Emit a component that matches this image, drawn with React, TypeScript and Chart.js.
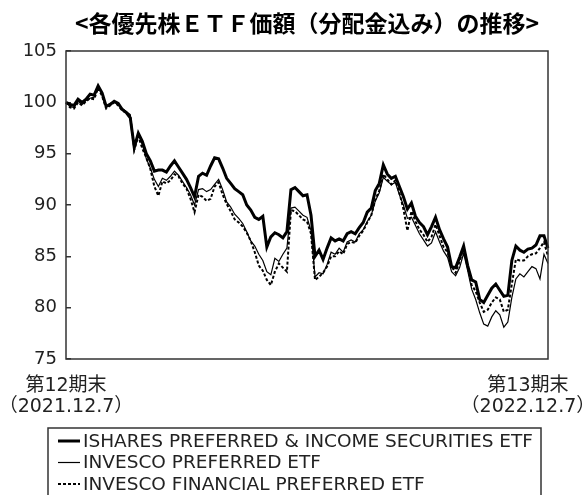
import React, { useEffect, useRef } from 'react';
import { Chart, registerables } from 'chart.js';

Chart.register(...registerables);

const titleText = '<各優先株ＥＴＦ価額（分配金込み）の推移>';
const seriesNames = [
  'ISHARES PREFERRED & INCOME SECURITIES ETF',
  'INVESCO PREFERRED ETF',
  'INVESCO FINANCIAL PREFERRED ETF',
];
const xTickLabels = [
  ['第12期末', '（2021.12.7）'],
  ['第13期末', '（2022.12.7）'],
];
const yMin = 75;
const yMax = 105;
const yStep = 5;

const ishares = [
  100.0, 99.8, 99.7, 100.3, 100.0, 100.3, 100.8, 100.7, 101.6, 100.9,
  99.6, 99.8, 100.1, 99.9, 99.3, 99.0, 98.5, 95.6, 97.0, 96.2,
  95.0, 94.3, 93.3, 93.4, 93.4, 93.2, 93.8, 94.3, 93.7, 93.1,
  92.5, 91.7, 90.8, 92.8, 93.1, 92.9, 93.8, 94.6, 94.5, 93.6,
  92.6, 92.1, 91.6, 91.3, 91.0, 90.0, 89.5, 88.8, 88.6, 88.9,
  85.9, 86.9, 87.3, 87.1, 86.8, 87.4, 91.5, 91.7, 91.3, 90.9,
  91.0, 89.0, 85.0, 85.6, 84.7, 85.8, 86.8, 86.5, 86.7, 86.5,
  87.2, 87.4, 87.2, 87.8, 88.3, 89.3, 89.7, 91.4, 92.1, 93.9,
  93.0, 92.6, 92.8, 91.8, 90.8, 89.6, 90.2, 88.9, 88.3, 87.9,
  87.1, 87.9, 88.8, 87.6, 86.7, 85.9, 84.0, 83.9, 84.9, 86.0,
  84.1, 82.7, 82.5, 80.8, 80.5, 81.2, 81.9, 82.3, 81.7, 81.1,
  81.2, 84.6, 86.0, 85.6, 85.4, 85.7, 85.8, 86.1, 87.0, 87.0,
  85.8,
];

const invescoPreferred = [
  100.0, 99.6, 99.5, 100.1, 99.8, 100.2, 100.4, 100.5, 101.5, 100.8,
  99.5, 99.9, 100.0, 99.8, 99.4, 99.1, 98.8, 95.7, 96.9, 95.9,
  94.5, 93.6, 92.5, 91.8, 92.6, 92.4, 92.8, 93.3, 92.9, 92.3,
  91.7, 91.0, 90.0, 91.5, 91.6, 91.3, 91.5, 92.0, 92.5, 91.5,
  90.3, 89.8, 89.1, 88.7, 88.2, 87.4, 86.5, 86.0, 85.2, 84.6,
  83.5, 83.2, 84.8, 84.5, 85.2, 85.8, 89.7, 89.8, 89.4, 89.0,
  88.8, 87.5, 83.0, 83.4, 83.3, 84.2, 85.4, 85.2, 85.8, 85.4,
  86.4, 86.6, 86.4, 87.2, 87.6, 88.4, 89.0, 90.4, 91.2, 92.7,
  92.3, 92.0, 92.2, 91.0, 90.0, 88.7, 88.8, 88.0, 87.2, 86.6,
  86.0, 86.3, 87.4, 86.4, 85.5, 84.9, 83.5, 83.1, 83.9, 85.3,
  83.6, 81.8, 80.8, 79.5, 78.4, 78.2, 79.1, 79.7, 79.3, 78.1,
  78.6, 81.0, 82.8, 83.3, 83.0, 83.5, 84.0, 83.8, 82.8, 85.2,
  84.3,
];

const invescoFinancial = [
  100.0, 99.5, 99.4, 100.0, 99.7, 100.1, 100.4, 100.3, 101.4, 100.6,
  99.4, 99.7, 100.0, 99.7, 99.2, 99.0, 98.6, 95.4, 96.7, 95.5,
  94.6, 93.5, 91.8, 90.9, 92.3, 92.1, 92.4, 93.0, 92.8, 92.1,
  91.6, 90.6, 89.3, 91.0, 90.8, 90.4, 90.6, 91.8, 92.2, 91.0,
  90.1, 89.4, 88.6, 88.3, 87.9, 87.3, 86.5, 85.4, 84.1, 83.6,
  82.7, 82.2, 83.5, 84.3, 83.9, 83.5, 89.5, 89.4, 89.0, 88.6,
  88.4, 87.2, 82.7, 83.0, 83.4, 84.0, 85.0, 85.0, 85.5, 85.2,
  86.2, 86.4, 86.3, 87.0, 87.5, 88.3, 89.0, 90.5, 91.4, 93.0,
  92.5, 92.0, 92.4, 91.2, 89.6, 87.5, 89.4, 88.4, 87.6, 87.1,
  86.4, 86.9, 88.1, 87.0, 85.9, 85.4, 84.0, 83.4, 84.5, 85.9,
  84.0, 82.2, 81.6, 80.5, 79.6, 79.8, 80.5, 81.0, 80.8, 79.6,
  79.8, 82.3, 84.7, 84.6, 84.6, 85.0, 85.2, 85.3, 85.8, 86.4,
  85.0,
];

const categories = ishares.map((_, i) => String(i));
const endLabelIndex = categories.length - 6;

const tickFont = 'DejaVu Sans, Noto Sans CJK JP, sans-serif';

const frameAndLegend = {
  id: 'frameAndLegend',
  afterDraw(chart: any) {
    const { ctx, chartArea } = chart;
    ctx.save();
    ctx.strokeStyle = '#333';
    ctx.lineWidth = 1.5;
    ctx.setLineDash([]);
    ctx.strokeRect(chartArea.left, chartArea.top, chartArea.right - chartArea.left, chartArea.bottom - chartArea.top);

    // legend box
    const boxLeft = 48;
    const boxTop = 428;
    const boxRight = 541;
    ctx.strokeRect(boxLeft, boxTop, boxRight - boxLeft, 100);
    ctx.font = '18.5px ' + tickFont;
    ctx.fillStyle = '#222';
    ctx.textBaseline = 'middle';
    ctx.textAlign = 'left';
    chart.data.datasets.forEach((ds: any, i: number) => {
      const y = 441 + i * 21.5;
      ctx.beginPath();
      ctx.strokeStyle = '#000';
      ctx.lineWidth = ds.borderWidth;
      ctx.setLineDash(ds.borderDash || []);
      ctx.moveTo(58, y);
      ctx.lineTo(80, y);
      ctx.stroke();
      ctx.setLineDash([]);
      ctx.fillText(ds.label, 83, y + 1);
    });
    ctx.restore();
  },
};

export default function App() {
  const canvasRef = useRef<HTMLCanvasElement | null>(null);

  useEffect(() => {
    if (!canvasRef.current) return;
    const chart = new Chart(canvasRef.current, {
      type: 'line',
      data: {
        labels: categories,
        datasets: [
          {
            label: seriesNames[0],
            data: ishares,
            borderColor: '#000',
            borderWidth: 3,
            pointRadius: 0,
            tension: 0,
          },
          {
            label: seriesNames[1],
            data: invescoPreferred,
            borderColor: '#000',
            borderWidth: 1.2,
            pointRadius: 0,
            tension: 0,
          },
          {
            label: seriesNames[2],
            data: invescoFinancial,
            borderColor: '#000',
            borderWidth: 2,
            borderDash: [3, 2],
            pointRadius: 0,
            tension: 0,
          },
        ],
      },
      options: {
        animation: false,
        responsive: true,
        maintainAspectRatio: false,
        layout: { padding: { top: 0, left: 0, right: 38, bottom: 0 } },
        plugins: {
          legend: { display: false },
          tooltip: { enabled: false },
          title: {
            display: true,
            text: titleText,
            fullSize: false,
            color: '#000',
            font: { family: 'Noto Sans CJK JP', size: 23, weight: 'bold', lineHeight: 1.2 },
            padding: { top: 9, bottom: 14.4 },
          },
        },
        scales: {
          x: {
            type: 'category',
            grid: { display: false },
            border: { display: false },
            afterBuildTicks: (scale: any) => {
              scale.ticks = [{ value: 0 }, { value: endLabelIndex }];
            },
            afterFit: (scale: any) => {
              scale.height = 136;
              scale.paddingLeft = 0;
              scale.paddingRight = 0;
            },
            ticks: {
              autoSkip: false,
              maxRotation: 0,
              minRotation: 0,
              padding: 8,
              color: '#222',
              font: { family: tickFont, size: 19, lineHeight: 1.12 },
              callback: (value: any) =>
                value === 0 ? xTickLabels[0] : value === endLabelIndex ? xTickLabels[1] : '',
            },
          },
          y: {
            min: yMin,
            max: yMax,
            border: { display: false },
            grid: {
              drawOnChartArea: false,
              drawTicks: true,
              tickLength: -5,
              color: '#333',
              lineWidth: 1.5,
            },
            afterFit: (scale: any) => {
              scale.width = 66;
            },
            ticks: {
              stepSize: yStep,
              padding: 14,
              color: '#222',
              font: { family: tickFont, size: 18 },
            },
          },
        },
      },
      plugins: [frameAndLegend],
    });
    return () => chart.destroy();
  }, []);

  return (
    <div style={{ position: 'fixed', left: 0, top: 0, width: 586, height: 495, background: '#fff' }}>
      <canvas ref={canvasRef} />
    </div>
  );
}
